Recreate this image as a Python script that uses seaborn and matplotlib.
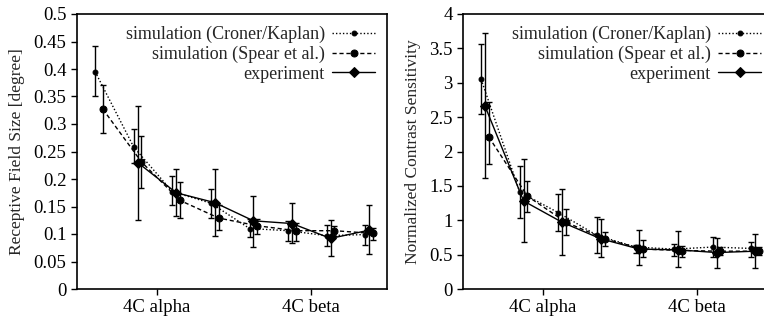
import numpy as np
import pandas as pd
import matplotlib
matplotlib.use("Agg")
import matplotlib.pyplot as plt
import seaborn as sns

# eight layers, 4C alpha (first four) -> 4C beta (last four)
layers = np.arange(8)
tick_labels = ["4C alpha", "4C beta"]

# receptive field size [degree]
rf_croner = [0.395, 0.258, 0.177, 0.156, 0.110, 0.106, 0.097, 0.099]
rf_croner_hi = [0.442, 0.291, 0.205, 0.181, 0.127, 0.124, 0.116, 0.116]
rf_croner_lo = [0.351, 0.230, 0.152, 0.129, 0.094, 0.087, 0.079, 0.080]
rf_spear = [0.327, 0.231, 0.161, 0.129, 0.115, 0.106, 0.106, 0.101]
rf_spear_hi = [0.371, 0.278, 0.194, 0.152, 0.128, 0.120, 0.115, 0.111]
rf_spear_lo = [0.284, 0.184, 0.130, 0.108, 0.100, 0.088, 0.096, 0.089]
rf_exp = [np.nan, 0.230, 0.175, 0.157, 0.124, 0.119, 0.092, 0.107]
rf_exp_hi = [np.nan, 0.333, 0.218, 0.218, 0.170, 0.156, 0.126, 0.153]
rf_exp_lo = [np.nan, 0.126, 0.132, 0.096, 0.077, 0.084, 0.060, 0.063]

# normalized contrast sensitivity
cs_croner = [3.05, 1.41, 1.11, 0.78, 0.61, 0.58, 0.61, 0.59]
cs_croner_hi = [3.56, 1.79, 1.38, 1.05, 0.64, 0.66, 0.75, 0.69]
cs_croner_lo = [2.55, 1.04, 0.85, 0.53, 0.53, 0.48, 0.47, 0.46]
cs_spear = [2.21, 1.35, 0.97, 0.73, 0.58, 0.56, 0.55, 0.55]
cs_spear_hi = [2.72, 1.57, 1.16, 0.83, 0.71, 0.63, 0.61, 0.61]
cs_spear_lo = [1.82, 1.12, 0.78, 0.63, 0.47, 0.47, 0.49, 0.49]
cs_exp = [2.66, 1.28, 0.97, 0.73, 0.58, 0.57, 0.53, 0.55]
cs_exp_hi = [3.73, 1.89, 1.45, 1.02, 0.86, 0.84, 0.74, 0.80]
cs_exp_lo = [1.61, 0.69, 0.49, 0.47, 0.35, 0.32, 0.31, 0.31]

sns.set_theme(style="ticks")
plt.rcParams["font.family"] = ["Liberation Serif", "DejaVu Serif"]

series = [
    ("simulation (Croner/Kaplan)", -0.1, (0, (1, 1.5)), "o", 3.5),
    ("simulation (Spear et al.)", 0.1, (0, (3, 2)), "o", 5),
    ("experiment", 0.0, "-", "D", 5),
]


def panel(ax, vals, his, los, ylim, yticks, ylabel):
    for (name, off, ls, mk, ms), v, hi, lo in zip(series, vals, his, los):
        df = pd.DataFrame({"x": layers + off, "y": v})
        sns.lineplot(data=df, x="x", y="y", ax=ax, color="black", lw=1,
                     linestyle=ls, marker=mk, markersize=ms,
                     markeredgecolor="black", label=name, errorbar=None)
        v = np.array(v)
        err = [v - np.array(lo), np.array(hi) - v]
        ax.errorbar(layers + off, v, yerr=err, fmt="none", ecolor="black",
                    elinewidth=1, capsize=2.5, capthick=1)
    ax.set_xlim(-0.57, 7.46)
    ax.set_xticks([1.5, 5.5])
    ax.set_xticklabels(tick_labels)
    ax.set_ylim(*ylim)
    ax.set_yticks(yticks)
    ax.set_yticklabels([f"{t:g}" for t in yticks])
    ax.set_xlabel("")
    ax.set_ylabel(ylabel, fontsize=12.5, labelpad=6)
    for s in ax.spines.values():
        s.set_linewidth(1.2)
        s.set_color("black")
    ax.tick_params(direction="out", length=4, width=1, labelsize=13.5,
                   colors="black", top=False, right=False)
    ax.legend(loc="upper right", frameon=False, markerfirst=False,
              fontsize=13, handlelength=2.4, labelspacing=0.15,
              borderaxespad=0.25, handletextpad=0.4)


fig = plt.figure(figsize=(7.64, 3.22), dpi=100)
ax1 = fig.add_axes([77 / 764, 1 - 289 / 322, 310 / 764, 275 / 322])
ax2 = fig.add_axes([463 / 764, 1 - 289 / 322, 310 / 764, 275 / 322])

panel(ax1, [rf_croner, rf_spear, rf_exp], [rf_croner_hi, rf_spear_hi, rf_exp_hi],
      [rf_croner_lo, rf_spear_lo, rf_exp_lo], (0, 0.5),
      np.arange(0, 0.51, 0.05), "Receptive Field Size [degree]")
panel(ax2, [cs_croner, cs_spear, cs_exp], [cs_croner_hi, cs_spear_hi, cs_exp_hi],
      [cs_croner_lo, cs_spear_lo, cs_exp_lo], (0, 4),
      np.arange(0, 4.01, 0.5), "Normalized Contrast Sensitivity")

fig.savefig("out.png", dpi=100, facecolor="white")
